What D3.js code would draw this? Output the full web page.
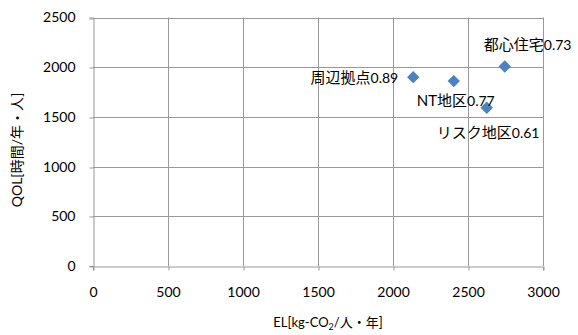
<!DOCTYPE html>
<html>
<head>
<meta charset="utf-8">
<script src="https://cdn.jsdelivr.net/npm/d3@7"></script>
<style>
  html, body { margin: 0; padding: 0; background: #fff; }
  svg { display: block; font-family: "Lato", "Noto Sans CJK JP", sans-serif; }
</style>
</head>
<body>
<svg id="chart" width="578" height="335"></svg>
<script>
// Scatter of emission load (EL) vs. quality of life (QOL) for each district type
const districtNames = ["周辺拠点", "NT地区", "リスク地区", "都心住宅"];
const ratioValues   = ["0.89", "0.77", "0.61", "0.73"];
const elValues      = [2135, 2405, 2625, 2745];
const qolValues     = [1900, 1860, 1592, 2007];
const xTicks = [0, 500, 1000, 1500, 2000, 2500, 3000];
const yTicks = [0, 500, 1000, 1500, 2000, 2500];

const points = districtNames.map((name, i) => ({
  name, ratio: ratioValues[i], el: elValues[i], qol: qolValues[i]
}));

// label placement relative to the marker (px): anchor and offsets
const labelPlacement = {
  "周辺拠点":   { anchor: "end",   dx: -15, dy: 0 },
  "NT地区":     { anchor: "start", dx: -37, dy: 19 },
  "リスク地区": { anchor: "start", dx: -50, dy: 25 },
  "都心住宅":   { anchor: "start", dx: -21, dy: -22 }
};

const svg = d3.select("#chart");
const margin = { left: 93, right: 35, top: 17.5, bottom: 69 };
const W = 578, H = 335;

const x = d3.scaleLinear().domain([0, 3000]).range([margin.left, W - margin.right]);
const y = d3.scaleLinear().domain([0, 2500]).range([H - margin.bottom, margin.top]);

const gridColor = "#999999";

// gridlines
svg.append("g").selectAll("line.v").data(xTicks.slice(1)).join("line")
  .attr("x1", d => Math.round(x(d)) + 0.5).attr("x2", d => Math.round(x(d)) + 0.5)
  .attr("y1", y(0)).attr("y2", y(2500))
  .attr("stroke", gridColor).attr("stroke-width", 1);
svg.append("g").selectAll("line.h").data(yTicks.slice(1)).join("line")
  .attr("x1", x(0)).attr("x2", x(3000))
  .attr("y1", d => Math.round(y(d)) + 0.5).attr("y2", d => Math.round(y(d)) + 0.5)
  .attr("stroke", gridColor).attr("stroke-width", 1);

// axes
const xAxis = svg.append("g")
  .attr("transform", `translate(0,${Math.round(y(0)) + 0.5})`)
  .call(d3.axisBottom(x).tickValues(xTicks).tickSize(4).tickPadding(17).tickFormat(d3.format("d")));
const yAxis = svg.append("g")
  .attr("transform", `translate(${Math.round(x(0)) + 0.5},0)`)
  .call(d3.axisLeft(y).tickValues(yTicks).tickSize(4).tickPadding(14).tickFormat(d3.format("d")));

[xAxis, yAxis].forEach(g => {
  g.select(".domain").attr("stroke", gridColor);
  g.selectAll(".tick line").attr("stroke", gridColor);
  g.selectAll(".tick text").attr("fill", "#000").style("font-size", "14px")
    .style("font-family", "Lato, sans-serif");
});
xAxis.selectAll(".tick line").attr("transform", d => `translate(${Math.round(x(d)) + 0.5 - x(d)},0)`);
yAxis.selectAll(".tick line").attr("transform", d => `translate(0,${Math.round(y(d)) + 0.5 - y(d)})`);

// axis titles
const xTitle = svg.append("text")
  .attr("x", 328).attr("y", 327)
  .attr("text-anchor", "middle").style("font-size", "13px");
xTitle.append("tspan").text("EL[kg-CO");
xTitle.append("tspan").attr("dy", 3).style("font-size", "9px").text("2");
xTitle.append("tspan").attr("dy", -3).text("/人・年]");

svg.append("text")
  .attr("transform", "translate(22,150) rotate(-90)")
  .attr("text-anchor", "middle").style("font-size", "14px")
  .text("QOL[時間/年・人]");

// markers (diamonds)
const half = 6.2;
svg.append("g").selectAll("path").data(points).join("path")
  .attr("d", d => {
    const cx = x(d.el), cy = y(d.qol);
    return `M${cx},${cy - half}L${cx + half},${cy}L${cx},${cy + half}L${cx - half},${cy}Z`;
  })
  .attr("fill", "#4f81bd");

// data labels
const labels = svg.append("g").selectAll("text").data(points).join("text")
  .attr("x", d => x(d.el) + labelPlacement[d.name].dx)
  .attr("y", d => y(d.qol) + labelPlacement[d.name].dy)
  .attr("dy", "0.35em")
  .attr("text-anchor", d => labelPlacement[d.name].anchor)
  .attr("fill", "#000");
labels.append("tspan").style("font-size", "15px").text(d => d.name);
labels.append("tspan").style("font-size", "14px").text(d => d.ratio);
</script>
</body>
</html>
